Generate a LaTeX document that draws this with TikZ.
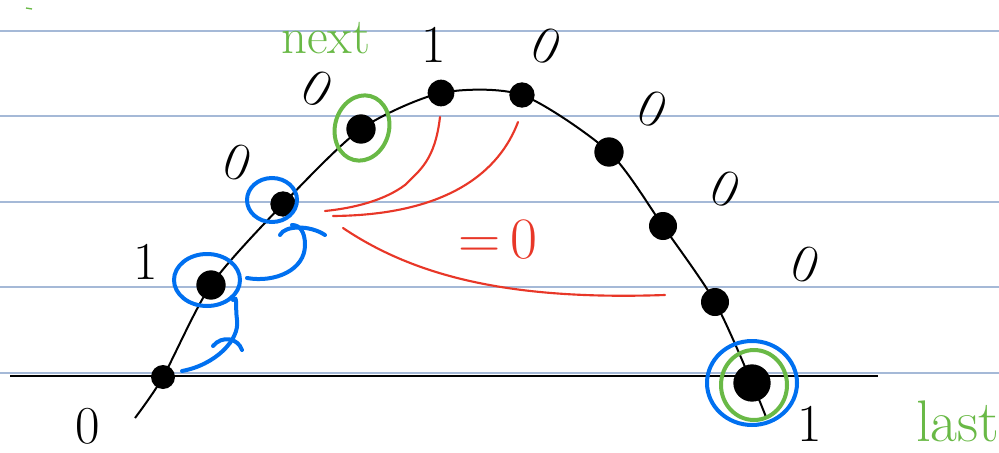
\documentclass[tikz,border=0pt]{standalone}
\usetikzlibrary{calc}
\definecolor{rule}{RGB}{165,185,215}
\definecolor{pen}{RGB}{0,112,240}
\definecolor{grn}{RGB}{105,185,70}
\definecolor{rd}{RGB}{232,55,40}
\tikzset{
  dot/.style={circle,fill=black,inner sep=0pt,minimum size=#1},
  digit/.style={font=\fontsize{40}{40}\selectfont,inner sep=0pt},
  word/.style={font=\fontsize{38}{38}\selectfont,text=grn,inner sep=0pt},
  ruled/.style={rule,line width=0.8pt},
  bluepen/.style={pen,line width=3pt,line cap=round},
  greenpen/.style={grn,line width=3pt},
  redpen/.style={rd,line width=1.6pt,line cap=round},
}
\begin{document}
\begin{tikzpicture}[x=0.75pt,y=-0.75pt]
\useasboundingbox (0,0) rectangle (999,453);
\clip (0,0) rectangle (999,453);
% ruled lines
\foreach \yy in {31,116,202,287,373} \draw[ruled] (0,\yy) -- (999,\yy);
% axis
\coordinate (axl) at (10,376);
\coordinate (axr) at (878,376);
\draw[line width=1.5pt] (axl) -- (axr);
% dots
\coordinate (s) at (135,418);
\coordinate (e) at (766,417);
\node[dot=18pt] (d1) at (163,377) {};
\node[dot=22pt] (d2) at (211,285) {};
\node[dot=19pt] (d3) at (283,204) {};
\node[dot=22pt] (d4) at (361,129) {};
\node[dot=20pt] (d5) at (441,93) {};
\node[dot=19pt] (d6) at (522,95) {};
\node[dot=22pt] (d7) at (609,152) {};
\node[dot=21pt] (d8) at (663,226) {};
\node[dot=21pt] (d9) at (715,302) {};
\node[dot=28pt] (d10) at (752,383) {};
\draw[line width=1.5pt] plot[smooth,tension=0.45] coordinates {(s) (d1.center) (d2.center) (d3.center) (d4.center) (d5.center) (d6.center) (d7.center) (d8.center) (d9.center) (d10.center) (e)};
% digits
\node[digit] (l0) at (88,426) {0};
\node[digit] (l1) at (146,262) {1};
\node[digit,rotate=-20] (l2) at (238,163) {0};
\node[digit,rotate=-30] (l3) at (318,89) {0};
\node[digit] (l4) at (434,45) {1};
\node[digit,rotate=-25] (l5) at (547,46) {0};
\node[digit,rotate=-25] (l6) at (653,109) {0};
\node[digit,rotate=-25] (l7) at (726,189) {0};
\node[digit,rotate=-20] (l8) at (806,265) {0};
\node[digit] (l9) at (810,424) {1};
% green words
\node[word] (next) at (326,38) {next};
\node[word,anchor=base west,font=\fontsize{44}{44}\selectfont] (last) at (916,441) {last};
\draw[grn,line width=1pt] (26,8) -- (32,9);
% circles
\draw[greenpen,rotate around={-15:(362,128)}] (362,128) ellipse (27 and 33);
\draw[bluepen] (272,200) ellipse (25 and 22);
\draw[bluepen] (207,280) ellipse (33 and 26);
\draw[bluepen] (752,383) ellipse (45 and 42);
\draw[greenpen] (754,385) ellipse (33 and 35);
% blue step marks
\draw[bluepen] (182,371) .. controls (215,365) and (240,340) .. (237,320) .. controls (235,305) and (238,295) .. (233,300);
\draw[bluepen] (213,346) .. controls (222,335) and (238,338) .. (242,350);
\draw[bluepen] (247,278) .. controls (275,283) and (305,270) .. (305,245) .. controls (305,232) and (300,225) .. (292,225);
\draw[bluepen] (280,235) .. controls (285,225) and (310,225) .. (325,235);
% red marks
\draw[redpen] (440,117) .. controls (435,160) and (420,170) .. (405,185) .. controls (385,200) and (355,208) .. (325,211);
\draw[redpen] (518,122) .. controls (500,170) and (450,215) .. (333,216);
\draw[redpen] (343,228) .. controls (420,280) and (520,300) .. (665,295);
\node[font=\fontsize{44}{44}\selectfont,text=rd,inner sep=0pt] (eq) at (498,240) {=\,0};
\end{tikzpicture}
\end{document}
